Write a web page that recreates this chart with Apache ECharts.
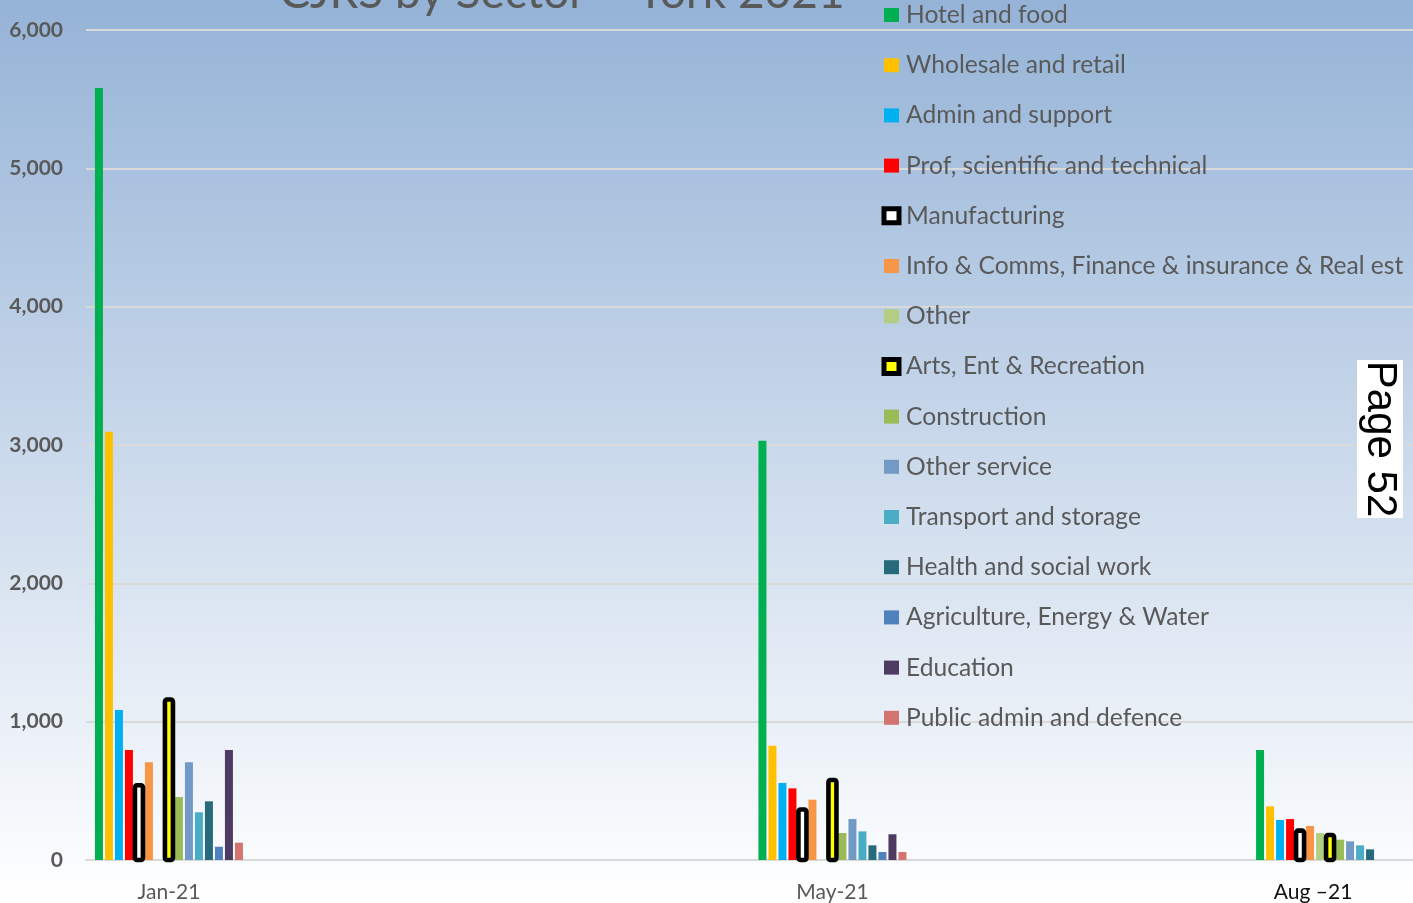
<!DOCTYPE html>
<html>
<head>
<meta charset="utf-8">
<script src="https://cdn.jsdelivr.net/npm/echarts@6/dist/echarts.min.js"></script>
<style>
html,body{margin:0;padding:0;background:#fff;}
#chart{width:1413px;height:903px;}
</style>
</head>
<body>
<div id="chart"></div>
<script>
// ---- data ----
const categories = ['Jan-21','Feb-21','Mar-21','Apr-21','May-21','Jun-21','Jul-21','Aug-21'];
const tickLabels = ['Jan-21','','','','May-21','','','Aug –21'];
const yTicks = [0, 1000, 2000, 3000, 4000, 5000, 6000];

const seriesNames = [
  'Hotel and food','Wholesale and retail','Admin and support','Prof, scientific and technical',
  'Manufacturing','Info & Comms, Finance & insurance & Real est','Other','Arts, Ent & Recreation',
  'Construction','Other service','Transport and storage','Health and social work',
  'Agriculture, Energy & Water','Education','Public admin and defence'
];

const hotelFood      = [5580, null, null, null, 3030, null, null, 795];
const wholesale      = [3095, null, null, null, 826,  null, null, 388];
const adminSupport   = [1085, null, null, null, 557,  null, null, 289];
const profSci        = [795,  null, null, null, 518,  null, null, 296];
const manufacturing  = [540,  null, null, null, 365,  null, null, 212];
const infoFinance    = [706,  null, null, null, 436,  null, null, 246];
const other          = [null, null, null, null, null, null, null, 195];
const artsEnt        = [1160, null, null, null, 578,  null, null, 181];
const construction   = [455,  null, null, null, 195,  null, null, 147];
const otherService   = [706,  null, null, null, 296,  null, null, 135];
const transport      = [345,  null, null, null, 207,  null, null, 106];
const health         = [424,  null, null, null, 106,  null, null, 77];
const agriculture    = [96,   null, null, null, 58,   null, null, null];
const education      = [795,  null, null, null, 186,  null, null, null];
const publicAdmin    = [125,  null, null, null, 58,   null, null, null];

const seriesValues = [hotelFood, wholesale, adminSupport, profSci, manufacturing, infoFinance,
  other, artsEnt, construction, otherService, transport, health, agriculture, education, publicAdmin];

// ---- styles ----
const colors = ['#00b050','#ffc000','#00b0f0','#ff0000','#ffffff','#f79646','#b3cd82','#ffff00',
  '#9bbb59','#7399c6','#4bacc6','#276a7c','#4f81bd','#4e3b62','#d37470'];
const outlinedIdx = [4, 7];
const BAR_W = 8, BAR_STEP = 10;

const chart = echarts.init(document.getElementById('chart'));
const textGray = '#595959';
const font = 'Lato, "Open Sans", sans-serif';

const series = seriesNames.map((name, i) => ({
  name: name,
  type: 'bar',
  data: seriesValues[i],
  barWidth: BAR_W,
  barGap: '25%',
  itemStyle: { color: colors[i] }
}));

// black outlines for the outlined series, drawn through the axes' scales
outlinedIdx.forEach(i => {
  const slot = i - (seriesNames.length - 1) / 2;
  series.push({
    name: seriesNames[i],
    type: 'custom',
    z: 5,
    silent: true,
    clip: false,
    data: seriesValues[i].map((v, k) => v == null ? null : [k, v]).filter(d => d),
    renderItem: function (params, api) {
      const top = api.coord([api.value(0), api.value(1)]);
      const base = api.coord([api.value(0), 0]);
      const cx = top[0] + slot * BAR_STEP;
      return {
        type: 'rect',
        shape: { x: cx - BAR_W / 2, y: top[1], width: BAR_W, height: base[1] - top[1], r: 2 },
        style: { fill: colors[i], stroke: '#000', lineWidth: 4.6 }
      };
    }
  });
});

const legendData = seriesNames.map((name, i) => {
  if (outlinedIdx.indexOf(i) >= 0) {
    return { name: name, itemStyle: { color: colors[i], borderColor: '#000', borderWidth: 5 } };
  }
  return { name: name };
});

const option = {
  backgroundColor: new echarts.graphic.LinearGradient(0, 0, 0, 1, [
    { offset: 0, color: '#95b3d7' },
    { offset: 1, color: '#ffffff' }
  ]),
  animation: false,
  grid: { left: 86, right: 0, top: 30, bottom: 43, containLabel: false },
  xAxis: {
    type: 'category',
    data: categories,
    boundaryGap: true,
    axisLine: { show: true, lineStyle: { color: '#d9d9d9', width: 2 } },
    axisTick: { show: false },
    axisLabel: {
      interval: 0,
      margin: 22,
      color: textGray,
      fontFamily: font,
      fontSize: 21,
      formatter: function (v, idx) {
        const t = tickLabels[idx];
        if (idx === 7) return '{aug|' + t + '}';
        return t;
      },
      rich: {
        aug: { color: '#111', fontFamily: font, fontSize: 21, padding: [0, 34, 0, 0] }
      }
    }
  },
  yAxis: {
    type: 'value',
    min: yTicks[0],
    max: yTicks[yTicks.length - 1],
    interval: 1000,
    axisLine: { show: false },
    axisTick: { show: false },
    splitLine: { lineStyle: { color: '#d9d9d9', width: 2 } },
    axisLabel: {
      margin: 23,
      color: textGray,
      fontFamily: font,
      fontWeight: 'bold',
      fontSize: 21,
      formatter: v => v.toLocaleString('en-US')
    }
  },
  legend: {
    orient: 'vertical',
    left: 881.5,
    top: 0,
    padding: 0,
    itemWidth: 15,
    itemHeight: 14,
    itemGap: 20.2,
    icon: 'rect',
    textStyle: { color: textGray, fontFamily: font, fontSize: 24.6, lineHeight: 30, padding: [0, 0, 0, 2] },
    data: legendData
  },
  graphic: [
    {
      type: 'text',
      x: 562, y: -7,
      style: { text: 'CJRS by Sector – York 2021', fill: textGray, font: '46px Lato, sans-serif', textAlign: 'center', textVerticalAlign: 'middle' },
      z: 10
    },
    {
      type: 'rect',
      shape: { x: 1357, y: 360, width: 46, height: 158 },
      style: { fill: '#ffffff' },
      z: 10
    },
    {
      type: 'text',
      x: 1380, y: 439,
      rotation: -Math.PI / 2,
      style: { text: 'Page 52', fill: '#000', font: '42px "Liberation Sans", Arial, sans-serif', textAlign: 'center', textVerticalAlign: 'middle' },
      z: 11
    }
  ],
  series: series
};
chart.setOption(option);
</script>
</body>
</html>
